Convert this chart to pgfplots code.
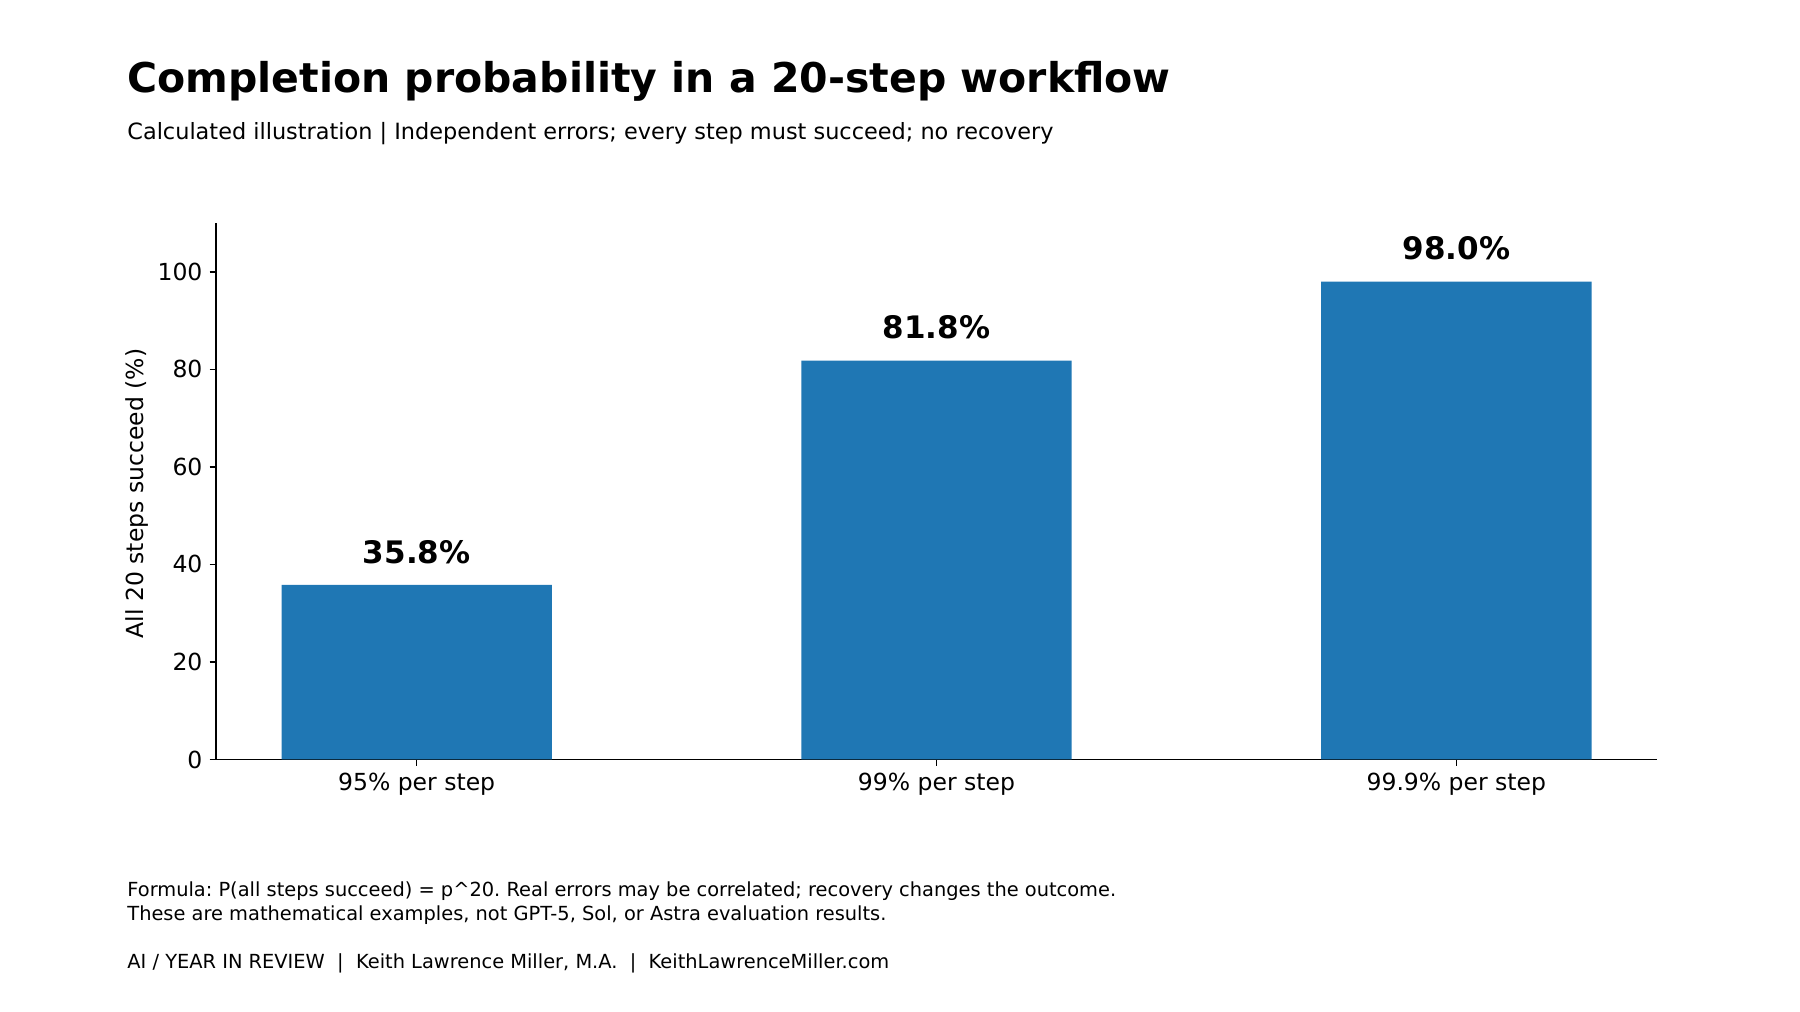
\documentclass[border=0pt]{standalone}
\usepackage{fontspec}
\setmainfont{DejaVu Sans}
\usepackage{pgfplots}
\pgfplotsset{compat=1.18}
\definecolor{barblue}{HTML}{1F77B4}
\frenchspacing
\begin{document}
\begin{tikzpicture}
\useasboundingbox (0,0) rectangle (900pt,506pt);
\begin{axis}[
 at={(108pt,126.25pt)}, anchor=south west,
 scale only axis, width=720.5pt, height=268.2pt,
 xmin=-0.386, xmax=2.386, ymin=0, ymax=110,
 axis x line*=bottom, axis y line*=left,
 axis line style={line width=0.75pt, -},
 tick align=outside, major tick length=3.25pt,
 tick style={line width=0.75pt, black},
 xtick={0,1,2}, xticklabels={95\% per step, 99\% per step, 99.9\% per step},
 ytick={0,20,...,100},
 ticklabel style={font=\fontsize{11.75}{14}\selectfont},
 /pgf/number format/assume math mode=true,
 ybar, bar width=0.52,
 nodes near coords={\pgfmathprintnumber[fixed,fixed zerofill,precision=1]{\pgfplotspointmeta}\%},
 nodes near coords style={font=\bfseries\fontsize{15.5}{18}\selectfont, anchor=base, inner sep=0pt, yshift=10.85pt, black},
]
\addplot[fill=barblue, draw=none] coordinates {(0,35.8) (1,81.8) (2,98.0)};
\end{axis}
\node[anchor=base west, inner sep=0pt, font=\bfseries\fontsize{20.5}{24}\selectfont] at (63.5pt,459.85pt) {Completion probability in a 20-step workflow};
\node[anchor=base west, inner sep=0pt, font=\fontsize{11.2}{13}\selectfont] at (63.5pt,436.2pt) {Calculated illustration | Independent errors; every step must succeed; no recovery};
\node[rotate=90, inner sep=0pt, font=\fontsize{11.75}{14}\selectfont] at (68.5pt,259.25pt) {All 20 steps succeed (\%)};
\node[anchor=base west, inner sep=0pt, font=\fontsize{9.7}{11}\selectfont] at (63.5pt,57.5pt) {Formula: P(all steps succeed) = p\textasciicircum 20. Real errors may be correlated; recovery changes the outcome.};
\node[anchor=base west, inner sep=0pt, font=\fontsize{9.7}{11}\selectfont] at (63.5pt,45.6pt) {These are mathematical examples, not GPT-5, Sol, or Astra evaluation results.};
\node[anchor=base west, inner sep=0pt, font=\fontsize{9.7}{11}\selectfont] at (63.5pt,21.6pt) {AI / YEAR IN REVIEW \ | \ Keith Lawrence Miller, M.A. \ | \ KeithLawrenceMiller.com};
\end{tikzpicture}
\end{document}
